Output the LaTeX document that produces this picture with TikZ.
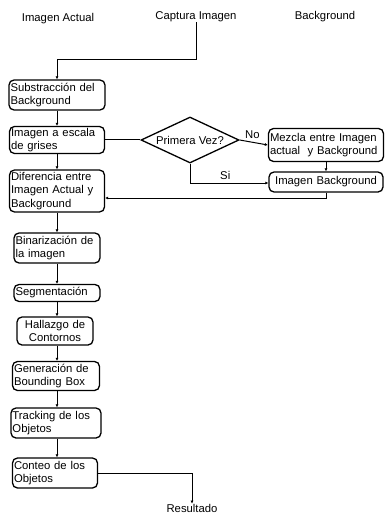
\documentclass[tikz,border=0pt]{standalone}
\usepackage{fontspec}
\setmainfont{Liberation Sans}
\usetikzlibrary{shapes.geometric,arrows.meta}
\begin{document}
\begin{tikzpicture}[x=1pt,y=-1pt,
  every node/.style={font=\fontsize{11.3}{13.5}\selectfont},
  box/.style={draw, line width=1.3pt, rounded corners=5pt, align=left, inner sep=1.5pt, anchor=center},
  lbl/.style={inner sep=0pt},
  conn/.style={line width=1pt, -{Latex[length=3pt,width=3pt]}},
  plain/.style={line width=1pt}]
\useasboundingbox (0,0) rectangle (384,513);
\node[lbl] (ia) at (58,19) {Imagen Actual};
\node[lbl] (cap) at (196,17) {Captura Imagen};
\node[lbl] (bg) at (325,17) {Background};

\node[box, minimum width=96pt, minimum height=30pt, text width=93pt] (sub) at (57,95) {Substracción del\\Background};
\node[box, minimum width=95pt, minimum height=27pt, text width=92pt] (gris) at (57,140) {Imagen a escala\\de grises};
\node[draw, diamond, aspect=2.3, line width=1.3pt, minimum width=98pt, minimum height=46pt, inner sep=0pt] (pv) at (190,140) {Primera Vez?};
\node[box, minimum width=115pt, minimum height=33pt, text width=112pt] (mez) at (326,145) {Mezcla entre Imagen\\actual\ \ y Background};
\node[box, minimum width=114pt, minimum height=20pt, text width=111pt, align=center] (ib) at (326,182) {Imagen Background};
\node[box, minimum width=95pt, minimum height=42pt, text width=92pt] (dif) at (57,191) {Diferencia entre\\Imagen Actual y\\Background};
\node[box, minimum width=86pt, minimum height=30pt, text width=83pt] (bin) at (57,248) {Binarización de\\la imagen};
\node[box, minimum width=86pt, minimum height=17pt, text width=83pt] (seg) at (57,293) {Segmentación};
\node[box, minimum width=76pt, minimum height=28pt, text width=73pt, align=center] (hal) at (55,331) {Hallazgo de\\Contornos};
\node[box, minimum width=87pt, minimum height=29pt, text width=84pt] (gen) at (56,376) {Generación de\\Bounding Box};
\node[box, minimum width=90pt, minimum height=30pt, text width=87pt] (tra) at (56,423) {Tracking de los\\Objetos};
\node[box, minimum width=85pt, minimum height=30pt, text width=82pt] (con) at (55,473) {Conteo de los\\Objetos};
\node[lbl] (res) at (192,508) {Resultado};

\coordinate (c1) at (196,60);
\coordinate (c2) at (57,60);
\draw[conn] (cap.south) -- (c1) -- (c2) -- (sub.north);
\draw[conn] (sub.south) -- (gris.north);
\draw[plain] (gris.east) -- (pv.west);
\draw[conn] (pv.east) -- node[above, pos=0.45] {No} (mez.west);
\draw[conn] (mez.south -| ib.north) -- (ib.north);
\coordinate (c3) at (190,183);
\draw[conn] (pv.south) -- (c3) -- node[above, pos=0.45] {Si} (ib.west |- c3);
\coordinate (c4) at (326,198);
\draw[conn] (ib.south) -- (c4) -- (dif.east |- c4);
\draw[conn] (gris.south) -- (dif.north);
\draw[conn] (dif.south) -- (bin.north);
\draw[conn] (bin.south) -- (seg.north);
\draw[conn] (seg.south) -- (seg.south |- hal.north);
\draw[conn] (seg.south |- hal.south) -- (seg.south |- gen.north);
\draw[conn] (seg.south |- gen.south) -- (seg.south |- tra.north);
\draw[conn] (seg.south |- tra.south) -- (seg.south |- con.north);
\coordinate (c5) at (192,473);
\draw[conn] (con.east) -- (c5) -- (res.north);
\end{tikzpicture}
\end{document}
